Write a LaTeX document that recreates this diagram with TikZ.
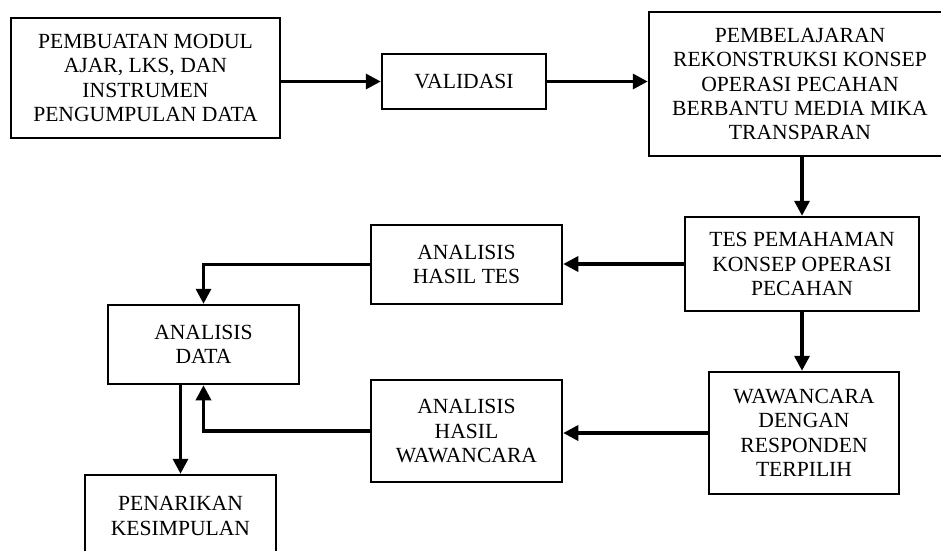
\documentclass[tikz,border=0pt]{standalone}
\usepackage{fontspec}
\setmainfont{Liberation Serif}
\usepackage{tikz}
\usetikzlibrary{positioning, calc, arrows.meta}

\begin{document}
\begin{tikzpicture}[x=1pt, y=-1pt,
	blok/.style = {draw, line width=2.5pt, align=center, inner sep=0pt,
		font=\fontsize{21.6}{24.4}\selectfont},
	panah/.style = {line width=3.4pt, -{Triangle[length=15pt, width=15pt]}}]
\useasboundingbox (0,0) rectangle (941,550);

\node[blok, minimum width=269, minimum height=120] (a1) at (145.5,78) {PEMBUATAN MODUL\\ AJAR, LKS, DAN\\ INSTRUMEN\\ PENGUMPULAN DATA};
\node[blok, minimum width=164, minimum height=55] (b1) at (464,81.5) {VALIDASI};
\node[blok, minimum width=302, minimum height=144] (c1) at (800,84) {PEMBELAJARAN\\ REKONSTRUKSI KONSEP\\ OPERASI PECAHAN\\ BERBANTU MEDIA MIKA\\ TRANSPARAN};

\node[blok, minimum width=234, minimum height=94] (c2) at (802,264) {TES PEMAHAMAN\\ KONSEP OPERASI\\ PECAHAN};
\node[blok, minimum width=191, minimum height=79] (b2) at (466.5,264.5) {ANALISIS\\ HASIL TES};
\node[blok, minimum width=191, minimum height=79] (a2) at (203.5,344.5) {ANALISIS\\ DATA};

\node[blok, minimum width=190, minimum height=122] (c3) at (804,433) {WAWANCARA\\ DENGAN\\ RESPONDEN\\ TERPILIH};
\node[blok, minimum width=191, minimum height=102] (b3) at (466.5,431) {ANALISIS\\ HASIL\\ WAWANCARA};
\node[blok, minimum width=191, minimum height=82] (a3) at (180.5,516) {PENARIKAN\\ KESIMPULAN};

\draw[panah] (a1.east |- b1.west) -- (b1.west);
\draw[panah] (b1.east) -- (b1.east -| c1.west);
\draw[panah] (c1.south -| c2.north) -- (c2.north);
\draw[panah] (c2.west) -- (c2.west -| b2.east);
\draw[panah] (b2.west) -| (a2.north);
\draw[panah] (c2.south) -- (c2.south |- c3.north);
\draw[panah] (c3.west) -- (c3.west -| b3.east);
\draw[panah] (b3.west) -| (a2.south);
\draw[panah] (a2.south -| a3.north) -- (a3.north);
\end{tikzpicture}
\end{document}
